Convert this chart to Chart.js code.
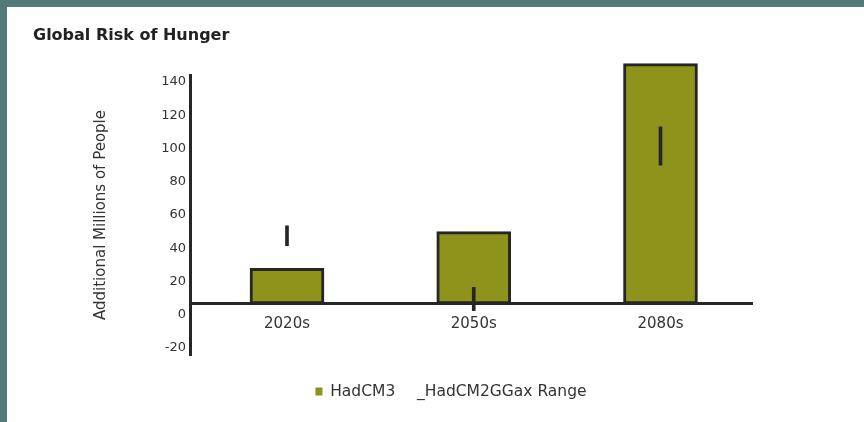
<!DOCTYPE html>
<html>
<head>
<meta charset="utf-8">
<script src="https://cdn.jsdelivr.net/npm/chart.js@4.4.0/dist/chart.umd.min.js"></script>
<style>
  html, body { margin: 0; padding: 0; width: 864px; height: 422px; overflow: hidden; background: #527b78; }
  #panel { position: absolute; left: 7px; top: 7px; right: 0; bottom: 0; background: #ffffff; }
  #chart { position: absolute; left: 0; top: 0; }
</style>
</head>
<body>
<div id="panel"></div>
<canvas id="chart" width="900" height="422"></canvas>
<script>
// Chart data
const periods = ['2020s', '2050s', '2080s'];
const hadcm3 = [28, 50, 151];
const rangeLow = [41.5, 2.5, 90];
const rangeHigh = [53.5, 16.5, 113];
const yTicks = [-20, 0, 20, 40, 60, 80, 100, 120, 140];

// value where the category axis crosses the y axis (bars start there)
const axisValue = 6.5;

const FONT = 'DejaVu Sans, Verdana, sans-serif';
const olive = '#8d931b';
const dark = '#262626';

// Build bar data from the arrays above
const mainData = hadcm3.map((v, i) => ({ x: i + 1, y: v }));
const rangeData = rangeLow.map((lo, i) => ({ x: i + 1, y: [lo, rangeHigh[i]] }));

const ctx = document.getElementById('chart').getContext('2d');

new Chart(ctx, {
    type: 'bar',
    data: {
        datasets: [{
            label: 'HadCM3',
            data: mainData,
            backgroundColor: olive,
            borderColor: dark,
            borderWidth: 3,
            borderSkipped: false,
            base: axisValue,
            grouped: false,
            barThickness: 74,
            maxBarThickness: 74,
            clip: false,
            order: 2
        }, {
            label: '_HadCM2GGax Range',
            data: rangeData,
            backgroundColor: dark,
            borderWidth: 0,
            grouped: false,
            barThickness: 3,
            maxBarThickness: 3,
            order: 1
        }]
    },
    options: {
        responsive: false,
        animation: false,
        events: [],
        layout: {
            padding: { left: 33, top: 10, right: 31, bottom: 12.75 }
        },
        plugins: {
            title: {
                display: true,
                text: 'Global Risk of Hunger',
                align: 'start',
                color: '#222',
                font: { family: FONT, size: 16, weight: 'bold' },
                padding: { top: 16.4, bottom: 29.4 }
            },
            legend: {
                position: 'bottom',
                title: {
                    display: true,
                    text: '',
                    font: { size: 10 },
                    padding: { top: 0, bottom: 9.75 }
                },
                labels: {
                    color: '#333',
                    font: { family: FONT, size: 15.5 },
                    boxWidth: 7,
                    boxHeight: 8,
                    padding: 7,
                    sort: (a, b) => a.datasetIndex - b.datasetIndex,
                    generateLabels: function(chart) {
                        const items = Chart.defaults.plugins.legend.labels.generateLabels(chart);
                        items.forEach(item => {
                            item.lineWidth = 0;
                            if (item.datasetIndex === 1) {
                                item.fillStyle = 'rgba(0,0,0,0)';
                                item.strokeStyle = 'rgba(0,0,0,0)';
                            }
                        });
                        return items;
                    }
                }
            },
            tooltip: { enabled: false }
        },
        scales: {
            x: {
                type: 'linear',
                position: { y: axisValue },
                min: 0.4806,
                max: 3.49,
                offset: false,
                grid: { display: false, drawTicks: false },
                border: { display: true, color: dark, width: 3 },
                afterBuildTicks: function(scale) {
                    scale.ticks = periods.map((p, i) => ({ value: i + 1 }));
                },
                ticks: {
                    color: '#333',
                    font: { family: FONT, size: 15 },
                    padding: 11,
                    maxRotation: 0,
                    autoSkip: false,
                    callback: function(value) {
                        return periods[value - 1];
                    }
                }
            },
            y: {
                type: 'linear',
                position: 'left',
                min: -24.2,
                max: 144.2,
                grid: { display: false, drawTicks: false },
                border: { display: true, color: dark, width: 3 },
                afterBuildTicks: function(scale) {
                    scale.ticks = yTicks.map(v => ({ value: v }));
                },
                afterFit: function(scale) {
                    scale.width = 157;
                },
                ticks: {
                    color: '#333',
                    font: { family: FONT, size: 13 },
                    padding: 4
                },
                title: {
                    display: true,
                    text: 'Additional Millions of People',
                    color: '#333',
                    font: { family: FONT, size: 15 },
                    padding: { top: 59, bottom: 0 }
                }
            },
            // empty right-hand axis, only keeps room so the legend sits where it does in the original
            yRight: {
                type: 'linear',
                position: 'right',
                display: true,
                grid: { display: false },
                border: { display: false },
                ticks: { display: false },
                afterFit: function(scale) {
                    scale.width = 117;
                }
            }
        }
    }
});
</script>
</body>
</html>
